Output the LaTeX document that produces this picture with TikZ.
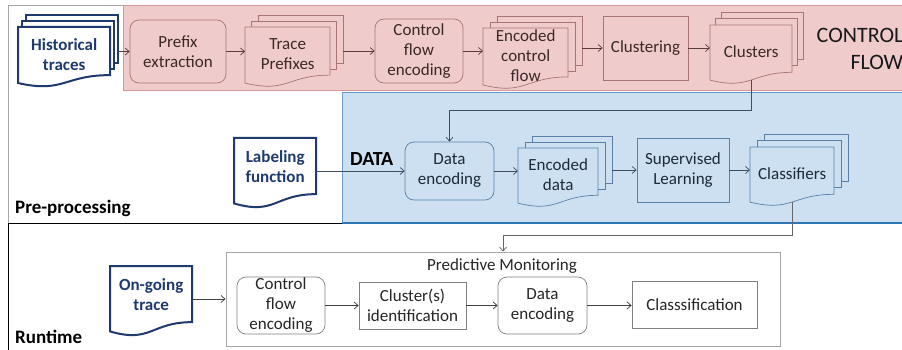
\documentclass[tikz,border=0pt]{standalone}
\usepackage{fontspec}
\setmainfont{Carlito}
\usetikzlibrary{arrows.meta}
\definecolor{pinkfill}{HTML}{F0CBCB}
\definecolor{pinkline}{HTML}{D49A9A}
\definecolor{pinknode}{HTML}{A87474}
\definecolor{pinktext}{HTML}{3B2828}
\definecolor{pinkarrow}{HTML}{5A3C3C}
\definecolor{bluefill}{HTML}{CCE0F2}
\definecolor{blueline}{HTML}{6A9BC8}
\definecolor{bluedark}{HTML}{2E75B6}
\definecolor{bluenode}{HTML}{5A80A6}
\definecolor{bluetext}{HTML}{1C2B3A}
\definecolor{bluearrow}{HTML}{3C5064}
\definecolor{navy}{HTML}{1F3A6E}
\definecolor{graynode}{HTML}{808080}
\definecolor{graytext}{HTML}{262626}
\tikzset{
  nfont/.style={font=\fontsize{17}{20}\selectfont},
  pinkbox/.style={draw=pinknode, fill=pinkfill, line width=0.7pt, text=pinktext, nfont, align=center, inner sep=0pt},
  bluebox/.style={draw=bluenode, fill=bluefill, line width=0.7pt, text=bluetext, nfont, align=center, inner sep=0pt},
  graybox/.style={draw=graynode, fill=white, line width=0.7pt, text=graytext, nfont, align=center, inner sep=0pt},
  pinkpage/.style={draw=pinknode, fill=pinkfill, line width=0.7pt},
  pinktxt/.style={text=pinktext, nfont, align=center, inner sep=0pt},
  bluepage/.style={draw=bluenode, fill=bluefill, line width=0.7pt},
  bluetxt/.style={text=bluetext, nfont, align=center, inner sep=0pt},
  navypage/.style={draw=navy, fill=white, line width=2pt},
  navytxt/.style={text=navy, font=\bfseries\fontsize{17}{20}\selectfont, align=center, inner sep=0pt},
  arr/.style={-{Straight Barb[length=4pt,width=7pt]}, line width=0.7pt},
  lbl/.style={font=\bfseries\fontsize{19}{23}\selectfont, text=black, inner sep=0pt}
}
% #1 name, #2 x0, #3 y0, #4 x1, #5 h, #6 dx, #7 dy, #8 style base, #9 text
\newcommand\mdoc[9]{%
  \path[#8page] (#2+2*#6, #3-2*#7) rectangle (#4+2*#6, #3+0.802*#5-2*#7);
  \path[#8page] (#2+#6, #3-#7) rectangle (#4+#6, #3+0.802*#5-#7);
  \path[#8page] (#2,#3) -- (#4,#3) -- (#4,#3+0.802*#5)
     .. controls ({(#2+#4)/2},#3+0.802*#5) and ({(#2+#4)/2},#3+1.1075*#5) .. (#2,#3+0.934*#5) -- cycle;
  \coordinate (#1-r) at (#4+2*#6, #3+0.4*#5);
  \coordinate (#1-b) at ({(#2+#4)/2}, #3+0.933*#5);
  \node[#8txt, anchor=north west, minimum width={(#4-#2)*1pt}, minimum height={0.9*#5*1pt}] (#1) at (#2,#3) {#9};
}
% single document: #1 name, #2 x0, #3 y0, #4 x1, #5 h, #6 style base, #7 text
\newcommand\sdoc[7]{%
  \path[#6page] (#2,#3) -- (#4,#3) -- (#4,#3+0.802*#5)
     .. controls ({(#2+#4)/2},#3+0.802*#5) and ({(#2+#4)/2},#3+1.1075*#5) .. (#2,#3+0.934*#5) -- cycle;
  \node[#6txt, anchor=north west, minimum width={(#4-#2)*1pt}, minimum height={0.8*#5*1pt}] (#1) at (#2,#3) {#7};
}
\begin{document}
\begin{tikzpicture}[x=1pt,y=-1pt]
\useasboundingbox (0,0) rectangle (902,350);
\fill[white] (0,0) rectangle (902,350);
% frames and regions
\draw[line width=0.8pt, color=black!35] (8,223) -- (8,5) -- (905,5);
\path[fill=pinkfill, draw=pinkline, line width=0.6pt] (123,5) rectangle (906,90.5);
\path[fill=bluefill, draw=blueline, line width=0.8pt] (342,92) rectangle (906,223);
\draw[bluedark, line width=1.2pt] (342,223) -- (906,223);
\draw[black, line width=0.9pt] (8,223) -- (342,223);
\draw[black, line width=0.9pt] (8,223) -- (8,352);

% control flow row
\mdoc{hist}{18}{27}{110}{60}{4}{6}{navy}{Historical\\traces}
\node[pinkbox, rounded corners=9pt, minimum width=96pt, minimum height=63pt] (pre) at (178,51.5) {Prefix\\extraction};
\mdoc{tp}{245}{27}{330}{60}{6.5}{6}{pink}{Trace\\Prefixes}
\node[pinkbox, rounded corners=9pt, minimum width=88pt, minimum height=64pt] (cfe) at (419,51) {Control\\flow\\encoding};
\mdoc{ecf}{483}{28}{568}{61}{7}{6}{pink}{Encoded\\control\\flow}
\node[pinkbox, minimum width=85pt, minimum height=64pt] (clu) at (645.5,48) {Clustering};
\mdoc{cls}{710}{25}{792}{59}{5.5}{6.5}{pink}{Clusters}
\node[font=\fontsize{22}{27}\selectfont, text=black!90, anchor=base east, inner sep=0pt] (cf1) at (903.5,43) {CONTROL};
\node[font=\fontsize{22}{27}\selectfont, text=black!90, anchor=base east, inner sep=0pt] (cf2) at (903.5,70) {FLOW};

% data row
\sdoc{lab}{234}{138}{316}{70}{navy}{Labeling\\function}
\node[font=\bfseries\fontsize{20}{24}\selectfont, anchor=base west, inner sep=0pt] (datalbl) at (350,165) {DATA};
\node[bluebox, rounded corners=9pt, minimum width=89pt, minimum height=58pt] (de) at (449.5,171) {Data\\encoding};
\mdoc{ed}{518}{148}{598}{59}{7}{6}{blue}{Encoded\\data}
\node[bluebox, minimum width=92pt, minimum height=64pt] (sl) at (683,170) {Supervised\\Learning};
\mdoc{clf}{750}{147}{834}{59}{7}{6.5}{blue}{Classifiers}

\node[lbl, anchor=base west] (prelbl) at (15,213) {Pre-processing};
\node[lbl, anchor=base west] (runlbl) at (15,343) {Runtime};

% runtime
\sdoc{og}{110}{266}{192}{70}{navy}{On-going\\trace}
\node[draw=black!35, line width=1pt, minimum width=554pt, minimum height=94pt, inner sep=0pt] (pm) at (503,299) {};
\node[nfont, text=graytext, inner sep=0pt] (pmt) at (502,266) {Predictive Monitoring};
\node[graybox, rounded corners=9pt, minimum width=88pt, minimum height=57pt] (rcfe) at (281,305.5) {Control\\flow\\encoding};
\node[graybox, minimum width=107pt, minimum height=47pt] (ci) at (412.5,305.5) {Cluster(s)\\identification};
\node[graybox, rounded corners=9pt, minimum width=89pt, minimum height=57pt] (rde) at (542.5,305.5) {Data\\encoding};
\node[graybox, minimum width=125pt, minimum height=47pt] (cl) at (694.5,304.5) {Classsification};

% connectors
\draw[arr, pinkarrow] (hist-r |- pre.west) -- (pre.west);
\draw[arr, pinkarrow] (pre.east) -- (pre.east -| tp.west);
\draw[arr, pinkarrow] (tp-r |- cfe.west) -- (cfe.west);
\draw[arr, pinkarrow] (cfe.east) -- (cfe.east -| ecf.west);
\draw[arr, pinkarrow] (ecf-r |- clu.west) -- (clu.west);
\draw[arr, pinkarrow] (clu.east) -- (clu.east -| cls.west);
\draw[arr, bluearrow] (cls-b) -- (cls-b |- 0,110) -- (de.north |- 0,110) -- (de.north);
\draw[arr, bluearrow] (lab.east |- de.west) -- (de.west);
\draw[arr, bluearrow] (de.east) -- (de.east -| ed.west);
\draw[arr, bluearrow] (ed-r |- sl.west) -- (sl.west);
\draw[arr, bluearrow] (sl.east) -- (sl.east -| clf.west);
\draw[arr, black!60] (clf-b) -- (clf-b |- 0,235) -- (pm.north |- 0,235) -- (pm.north);
\draw[arr, black!75] (og.east |- pm.west) -- (pm.west);
\draw[arr, black!75] (rcfe.east) -- (rcfe.east -| ci.west);
\draw[arr, black!75] (ci.east) -- (ci.east -| rde.west);
\draw[arr, black!75] (rde.east) -- (rde.east -| cl.west);
\end{tikzpicture}
\end{document}
